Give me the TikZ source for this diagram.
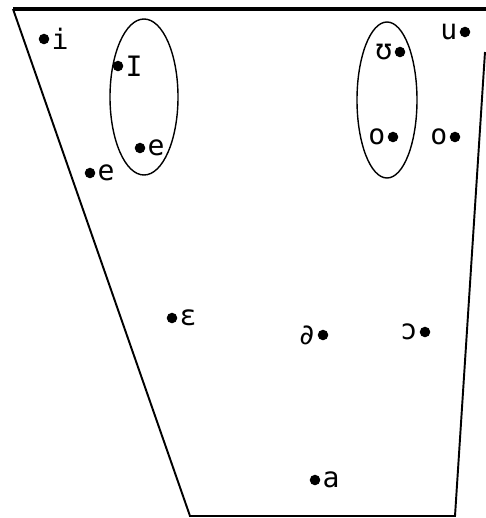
\documentclass[tikz,border=0pt]{standalone}
\usepackage{fontspec}
\newfontfamily\ipafont{DejaVu Sans Mono}
\tikzset{
  vdot/.style={circle,fill=black,inner sep=0pt,minimum size=6pt},
  vlab/.style={font=\ipafont\fontsize{16}{16}\selectfont,inner sep=1pt,label distance=0pt},
}
\begin{document}
\begin{tikzpicture}[x=0.02cm,y=-0.02cm]
        \useasboundingbox (0,0) rectangle (485,518);
        % Rahmen
        \coordinate (tl) at (13,9);
        \coordinate (tr) at (486,9);
        \coordinate (rt) at (485,52);
        \coordinate (br) at (455,516);
        \coordinate (bl) at (190,516);
        \draw[line width=2pt] (tl)--(tr); %oben
        \draw[line width=1.1pt] (tl)--(bl)--(br)--(rt); %links, unten, rechts
        % Vokale
        \node[vdot,label={[vlab]right:i}] (i) at (44,39) {};
        \node[vdot,label={[vlab]right:I}] (I) at (118,66) {};
        \node[vdot,label={[vlab]right:e}] (e1) at (140,148) {};
        \node[vdot,label={[vlab]right:e}] (e2) at (90,173) {};
        \node[vdot,label={[vlab]left:ʊ}] (U) at (400,52) {};
        \node[vdot,label={[vlab]left:u}] (u) at (465,32) {};
        \node[vdot,label={[vlab]left:o}] (o1) at (393,137) {};
        \node[vdot,label={[vlab]left:o}] (o2) at (455,137) {};
        \node[vdot,label={[vlab]right:ɛ}] (E) at (172,318) {};
        \node[vdot,label={[vlab]left:∂}] (schwa) at (323,335) {};
        \node[vdot,label={[vlab]left:ɔ}] (O) at (425,332) {};
        \node[vdot,label={[vlab]right:a}] (a) at (315,480) {};
        % Ellipsen
        \draw[thick] (144,97) ellipse [x radius=34,y radius=78];
        \draw[thick] (387,100) ellipse [x radius=30,y radius=78];
    \end{tikzpicture}
\end{document}
